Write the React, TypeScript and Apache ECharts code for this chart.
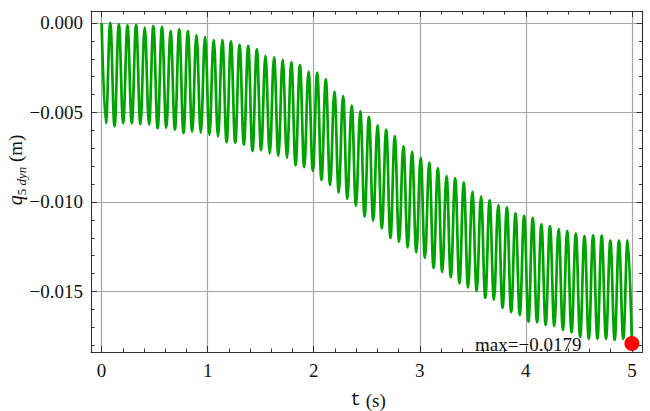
import React, { useEffect, useRef } from "react";
import * as echarts from "echarts";

// Read values (in units of 0.001 m)
// Upper turning points of the oscillation (one per cycle, starting at t = 0)
const tops: number[] = [
  0.0, 0.0, -0.07, -0.13, -0.11, -0.26, -0.17, -0.21, -0.45, -0.35,
  -0.45, -0.67, -0.78, -0.95, -0.95, -1.02, -1.22, -1.27, -1.47, -1.83,
  -1.92, -2.06, -2.19, -2.35, -2.73, -2.78, -3.15, -3.84, -4.08, -4.62,
  -4.93, -5.24, -5.72, -5.97, -6.33, -6.89, -7.2, -7.54, -7.8, -8.12,
  -8.55, -8.68, -8.92, -9.44, -9.7, -9.91, -10.17, -10.3, -10.64, -10.78,
  -10.88, -11.25, -11.34, -11.52, -11.62, -11.76, -11.9, -11.87, -11.88, -12.16,
  -12.16, -12.14,
];
// Lower turning points (half a cycle after each upper one; the last one is at t = 5)
const bottoms: number[] = [
  -5.59, -5.77, -5.59, -5.59, -5.66, -5.66, -5.88, -5.85, -5.96, -6.15,
  -6.07, -6.13, -6.25, -6.34, -6.66, -6.69, -6.8, -7.15, -7.11, -7.29,
  -7.41, -7.53, -7.95, -8.06, -8.25, -8.77, -9.05, -9.46, -9.83, -10.21,
  -10.8, -11.04, -11.47, -12.01, -12.22, -12.53, -12.81, -13.12, -13.68, -13.91,
  -14.2, -14.54, -14.77, -14.98, -15.36, -15.46, -15.91, -16.15, -16.31, -16.69,
  -16.72, -16.87, -16.94, -17.14, -17.28, -17.54, -17.65, -17.65, -17.65, -17.7,
  -17.65, -17.9,
];
const tEnd = 5;
const cycles = 61.5; // number of oscillation periods between t = 0 and t = 5
const maxPoint: [number, number] = [5, -0.0179];
const maxLabel = "max=\u22120.0179";
const xTickValues = [0, 1, 2, 3, 4, 5];
const yTickValues = [0, -0.005, -0.01, -0.015];

const FONT = "Liberation Serif";
const MONO = "Liberation Mono";

export default function App() {
  const ref = useRef<HTMLDivElement>(null);
  useEffect(() => {
    document.body.style.margin = "0";
    if (!ref.current) return;
    const chart = echarts.init(ref.current, undefined, { renderer: "svg" });

    const period = tEnd / cycles;
    const lineData: [number, number][] = [];
    for (let i = 0; i < tops.length; i++) {
      lineData.push([i * period, tops[i] / 1000]);
      lineData.push([(i + 0.5) * period, bottoms[i] / 1000]);
    }

    const isTick = (v: number, list: number[]) =>
      list.some((t) => Math.abs(t - v) < 1e-9);

    const frameColor = "#333";
    const tickCommon = {
      axisLine: { show: true, onZero: false, lineStyle: { color: frameColor, width: 1 } },
      axisTick: { show: true, inside: true, length: 6, lineStyle: { color: frameColor, width: 1 } },
      minorTick: { show: true, splitNumber: 5, length: 3.5, lineStyle: { color: frameColor, width: 1 } },
    };

    const xCommon = { type: "value" as const, min: -0.1, max: 5.1, splitNumber: 5 };
    const yCommon = { type: "value" as const, min: -0.01838, max: 0.00067, splitNumber: 4 };

    chart.setOption({
      animation: false,
      backgroundColor: "#ffffff",
      textStyle: { fontFamily: FONT },
      grid: { left: 91, right: 7.5, top: 11, bottom: 59, containLabel: false },
      xAxis: [
        {
          ...xCommon,
          ...tickCommon,
          position: "bottom",
          axisLabel: {
            show: true,
            margin: 9,
            color: "#111",
            fontFamily: FONT,
            fontSize: 19,
            formatter: (v: number) => (isTick(v, xTickValues) ? String(Math.round(v)) : ""),
          },
          splitLine: { show: true, lineStyle: { color: "#a6a6a6", width: 1.2 } },
        },
        {
          ...xCommon,
          ...tickCommon,
          position: "top",
          axisLabel: { show: false },
          splitLine: { show: false },
        },
      ],
      yAxis: [
        {
          ...yCommon,
          ...tickCommon,
          position: "left",
          axisLabel: {
            show: true,
            margin: 8,
            color: "#111",
            fontFamily: FONT,
            fontSize: 19,
            formatter: (v: number) => {
              if (!isTick(v, yTickValues)) return "";
              const s = Math.abs(v).toFixed(3);
              return v < -1e-12 ? "\u2212" + s : s;
            },
          },
          splitLine: { show: true, lineStyle: { color: "#a6a6a6", width: 1.2 } },
        },
        {
          ...yCommon,
          ...tickCommon,
          position: "right",
          axisLabel: { show: false },
          splitLine: { show: false },
        },
      ],
      series: [
        {
          type: "line",
          xAxisIndex: 0,
          yAxisIndex: 0,
          data: lineData,
          showSymbol: false,
          symbol: "none",
          smooth: 0.4,
          lineStyle: { color: "#00a400", width: 2.7, join: "round" },
          z: 3,
        },
        {
          type: "scatter",
          xAxisIndex: 0,
          yAxisIndex: 0,
          data: [maxPoint],
          symbol: "circle",
          symbolSize: 15,
          itemStyle: { color: "#ff0000", opacity: 1 },
          label: {
            show: true,
            position: "left",
            distance: 43,
            offset: [0, 1],
            formatter: maxLabel,
            color: "#111",
            fontFamily: FONT,
            fontSize: 19,
          },
          emphasis: { disabled: true },
          z: 4,
        },
      ],
      graphic: [
        {
          type: "text",
          x: 15,
          y: 170,
          rotation: Math.PI / 2,
          style: {
            text: "{q|q}{s|5 }{d|dyn}{n| (m)}",
            align: "center",
            verticalAlign: "middle",
            fill: "#111",
            rich: {
              q: { fontFamily: FONT, fontStyle: "italic", fontSize: 20, lineHeight: 26, fill: "#111" },
              s: { fontFamily: FONT, fontSize: 13, lineHeight: 14, verticalAlign: "bottom", fill: "#111" },
              d: { fontFamily: FONT, fontStyle: "italic", fontSize: 13, lineHeight: 14, verticalAlign: "bottom", fill: "#111" },
              n: { fontFamily: FONT, fontSize: 19, lineHeight: 26, fill: "#111" },
            },
          },
        },
        {
          type: "text",
          x: 368,
          y: 400,
          style: {
            text: "{t|t}{n| (s)}",
            align: "center",
            verticalAlign: "middle",
            fill: "#111",
            rich: {
              t: { fontFamily: MONO, fontSize: 18, fill: "#111" },
              n: { fontFamily: FONT, fontSize: 19, fill: "#111" },
            },
          },
        },
      ],
    });

    return () => chart.dispose();
  }, []);
  return <div ref={ref} style={{ width: 650, height: 411 }} />;
}
